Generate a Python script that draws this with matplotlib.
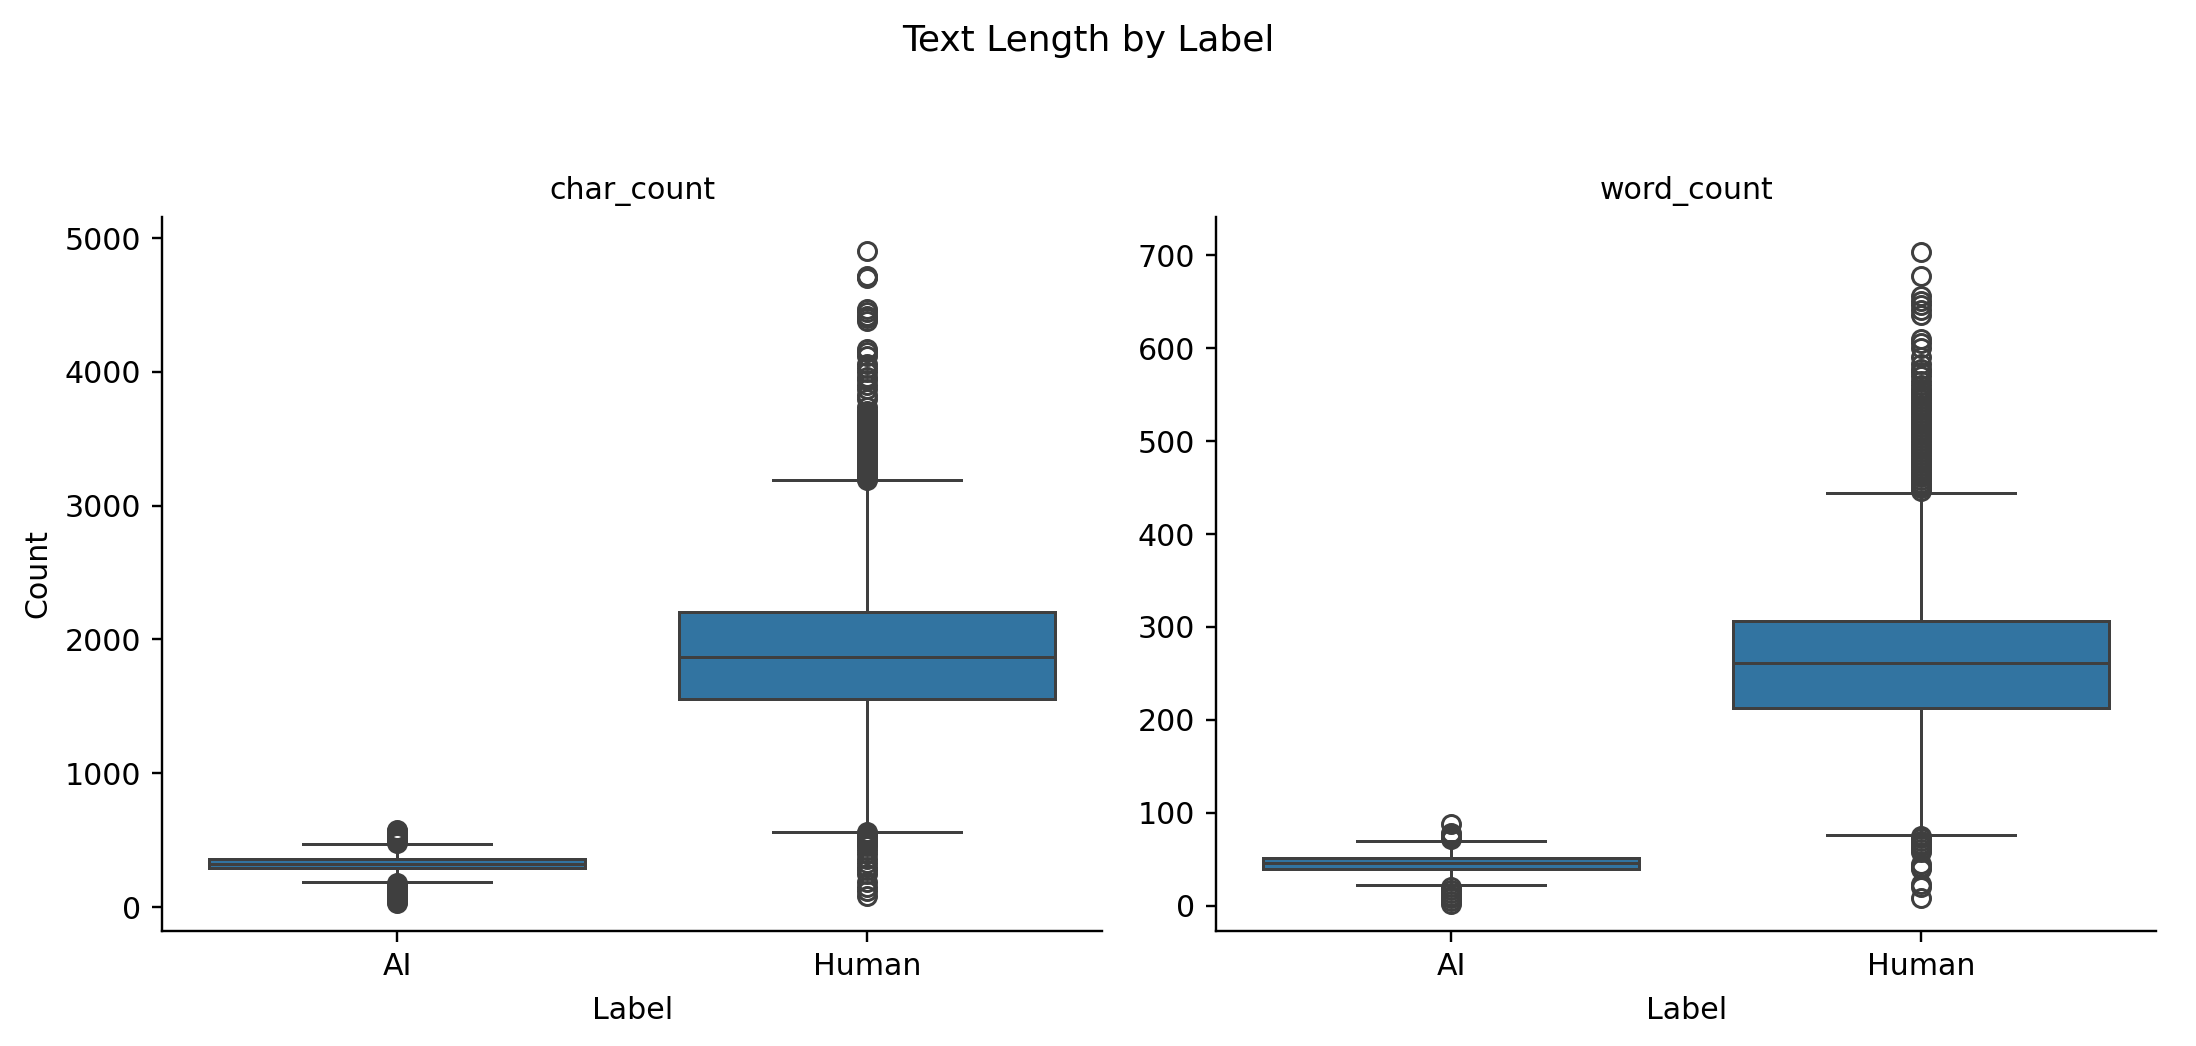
import matplotlib
matplotlib.use("Agg")
import matplotlib.pyplot as plt

labels = ["AI", "Human"]

# char_count box stats
char_q1 = [290, 1555]
char_med = [322, 1872]
char_q3 = [362, 2207]
char_whislo = [185, 565]
char_whishi = [470, 3190]
char_fliers = [
    [30, 45, 60, 75, 90, 105, 120, 135, 150, 165, 180,
     480, 495, 510, 525, 540, 555, 570, 580],
    [80, 120, 150, 190, 250, 280, 300, 330, 360, 400, 430, 460, 475, 490, 505, 520, 535, 550, 560,
     3195, 3210, 3225, 3240, 3255, 3270, 3285, 3300, 3315, 3330, 3345, 3360, 3375, 3390,
     3405, 3420, 3435, 3450, 3465, 3480, 3495, 3510, 3525, 3540, 3555, 3570, 3585, 3600,
     3615, 3630, 3645, 3660, 3675, 3690, 3705,
     3740, 3800, 3830, 3870, 3900, 3940, 3960, 4000, 4030, 4060, 4120, 4150, 4170,
     4380, 4400, 4420, 4450, 4470, 4700, 4710, 4720, 4900],
]

# word_count box stats
word_q1 = [40, 213]
word_med = [46, 261]
word_q3 = [52, 306]
word_whislo = [22, 76]
word_whishi = [70, 444]
word_fliers = [
    [2, 5, 8, 11, 14, 17, 20, 72, 74, 76, 78, 88],
    [8, 20, 23, 40, 42, 45, 58, 61, 64, 67, 70, 73, 75,
     446, 449, 452, 455, 458, 461, 464, 467, 470, 473, 476, 479, 482, 485, 488, 491,
     494, 497, 500, 503, 506, 509, 512, 515, 518, 521, 524, 527, 530, 533, 536, 539,
     542, 545, 548, 551, 554, 556,
     560, 565, 570, 574, 578, 583, 590, 600, 605, 610, 636, 641, 646, 651, 656, 678, 703],
]

panels = [
    ("char_count", char_q1, char_med, char_q3, char_whislo, char_whishi, char_fliers, (-178, 5157)),
    ("word_count", word_q1, word_med, word_q3, word_whislo, word_whishi, word_fliers, (-27, 741)),
]

box_color = "#3274a1"
line_color = "#3f3f3f"

fig, axs = plt.subplots(1, 2, figsize=(2196 / 216, 1046 / 216), dpi=216)
fig.subplots_adjust(left=0.0738, right=0.982, bottom=0.110, top=0.7925, wspace=0.121)

for ax, (name, q1, med, q3, lo, hi, fl, ylim) in zip(axs, panels):
    stats = []
    for i, lab in enumerate(labels):
        stats.append({"label": lab, "q1": q1[i], "med": med[i], "q3": q3[i],
                      "whislo": lo[i], "whishi": hi[i], "fliers": fl[i]})
    ax.bxp(stats, positions=[0, 1], widths=0.8, patch_artist=True,
           boxprops=dict(facecolor=box_color, edgecolor=line_color, linewidth=1.0),
           medianprops=dict(color=line_color, linewidth=1.0),
           whiskerprops=dict(color=line_color, linewidth=1.0),
           capprops=dict(color=line_color, linewidth=1.0),
           flierprops=dict(marker="o", markerfacecolor="none", markeredgecolor=line_color,
                           markersize=6, markeredgewidth=1.0),
           capwidths=0.4)
    ax.set_xlim(-0.5, 1.5)
    ax.set_ylim(*ylim)
    ax.set_title(name, fontsize=10)
    ax.set_xlabel("Label", fontsize=10, labelpad=5)
    ax.spines["top"].set_visible(False)
    ax.spines["right"].set_visible(False)

axs[0].set_ylabel("Count", fontsize=10)
fig.suptitle("Text Length by Label", fontsize=12, x=0.4955, y=0.977)

fig.savefig("out.png", dpi=216)
